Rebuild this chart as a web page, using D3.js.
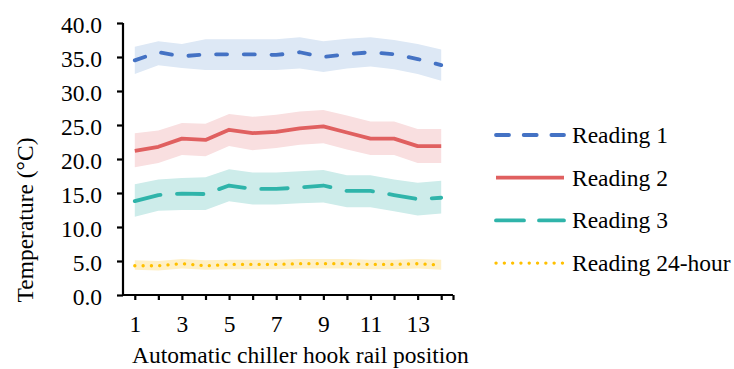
<!DOCTYPE html>
<html>
<head>
<meta charset="utf-8">
<script src="https://cdn.jsdelivr.net/npm/d3@7"></script>
<style>
	body { margin: 0; background: #fff; }
	svg { display: block; font-family: 'Liberation Serif', 'Times New Roman', serif; }
</style>
</head>
<body>
<div id="canvas"></div>
<script>
const positions = [1, 2, 3, 4, 5, 6, 7, 8, 9, 10, 11, 12, 13, 14];
const xTickLabels = [1, 3, 5, 7, 9, 11, 13];
const yTicks = [0, 5, 10, 15, 20, 25, 30, 35, 40];
const seriesNames = ['Reading 1', 'Reading 2', 'Reading 3', 'Reading 24-hour'];

const reading1 = [34.5, 35.7, 35.1, 35.4, 35.4, 35.4, 35.3, 35.7, 35.0, 35.4, 35.7, 35.4, 34.7, 33.8];
const reading1Hi = [36.5, 37.3, 36.9, 37.6, 37.6, 37.6, 37.6, 37.9, 37.3, 37.7, 37.9, 37.5, 36.9, 36.1];
const reading1Lo = [32.5, 33.8, 33.4, 33.1, 33.1, 33.1, 33.1, 33.3, 32.8, 33.3, 33.6, 33.2, 32.5, 31.5];

const reading2 = [21.2, 21.8, 23.0, 22.8, 24.3, 23.8, 24.0, 24.5, 24.8, 23.9, 23.0, 23.0, 21.9, 21.9];
const reading2Hi = [23.8, 24.2, 25.3, 25.2, 26.6, 26.2, 26.5, 27.0, 27.2, 26.4, 25.5, 25.5, 24.4, 24.4];
const reading2Lo = [18.8, 19.4, 20.6, 20.4, 21.9, 21.3, 21.6, 22.1, 22.3, 21.4, 20.6, 20.6, 19.4, 19.4];

const reading3 = [13.8, 14.7, 14.9, 14.85, 16.1, 15.6, 15.6, 15.8, 16.1, 15.3, 15.3, 14.7, 14.1, 14.3];
const reading3Hi = [16.3, 17.0, 17.2, 17.3, 18.5, 18.0, 18.0, 18.2, 18.4, 17.6, 17.6, 17.0, 16.5, 16.8];
const reading3Lo = [11.5, 12.4, 12.5, 12.5, 13.8, 13.3, 13.3, 13.5, 13.6, 12.9, 12.9, 12.3, 11.7, 12.0];

const reading24 = [4.3, 4.3, 4.6, 4.3, 4.5, 4.5, 4.5, 4.6, 4.6, 4.6, 4.5, 4.5, 4.6, 4.4];
const reading24Hi = [5.1, 5.0, 5.3, 5.1, 5.2, 5.2, 5.2, 5.3, 5.3, 5.3, 5.2, 5.2, 5.3, 5.2];
const reading24Lo = [3.7, 3.6, 3.9, 3.7, 3.8, 3.8, 3.8, 3.9, 3.9, 3.9, 3.8, 3.8, 3.9, 3.7];

const width = 734;
const height = 369;
const margin = { left: 123, right: 281, top: 23, bottom: 74 };
const fontSize = '23.5px';

const styles = [
	{ color: '#4472c4', band: '#dde8f5', dash: '11,16.7', cap: 'round', w: 3.8 },
	{ color: '#e06060', band: '#f9dfe0', dash: null, cap: 'butt', w: 3.8 },
	{ color: '#2fb4aa', band: '#cdecea', dash: '26.5,16.5', cap: 'round', w: 3.8 },
	{ color: '#ffc000', band: '#fff0c6', dash: '0.1,8.2', cap: 'round', w: 3.3 },
];

const series = [
	{ values: reading1, hi: reading1Hi, lo: reading1Lo },
	{ values: reading2, hi: reading2Hi, lo: reading2Lo },
	{ values: reading3, hi: reading3Hi, lo: reading3Lo },
	{ values: reading24, hi: reading24Hi, lo: reading24Lo },
];

const svg = d3.select('#canvas').append('svg').attr('width', width).attr('height', height);

const x = d3.scaleLinear().domain([0.5, 14.5]).range([margin.left, width - margin.right]);
const y = d3.scaleLinear().domain([0, 40]).range([height - margin.bottom, margin.top]);

// bands first, then lines on top
const area = d3.area().x((d, i) => x(positions[i])).y0(d => y(d[0])).y1(d => y(d[1]));
const line = d3.line().x((d, i) => x(positions[i])).y(d => y(d));

series.forEach((s, k) => {
	svg.append('path')
		.datum(s.lo.map((v, i) => [v, s.hi[i]]))
		.attr('d', area)
		.attr('fill', styles[k].band);
});

series.forEach((s, k) => {
	svg.append('path')
		.datum(s.values)
		.attr('d', line)
		.attr('fill', 'none')
		.attr('stroke', styles[k].color)
		.attr('stroke-width', styles[k].w)
		.attr('stroke-linecap', styles[k].cap)
		.attr('stroke-linejoin', 'round')
		.attr('stroke-dasharray', styles[k].dash);
});

// axes
const yAxis = svg.append('g')
	.attr('transform', `translate(${margin.left},0)`)
	.call(d3.axisLeft(y).tickValues(yTicks).tickFormat(d3.format('.1f')).tickSize(6).tickPadding(15));
const xAxis = svg.append('g')
	.attr('transform', `translate(0,${height - margin.bottom})`)
	.call(d3.axisBottom(x).tickValues(positions.concat([14.5])).tickFormat(d => xTickLabels.includes(d) ? d : '').tickSize(5).tickPadding(15));

[xAxis, yAxis].forEach(ax => {
	ax.attr('font-size', null).attr('font-family', null);
	ax.select('.domain').attr('stroke', '#000').attr('stroke-width', 2.2);
	ax.selectAll('.tick line').attr('stroke', '#000').attr('stroke-width', 2.2);
	ax.selectAll('.tick text')
		.attr('fill', '#000')
		.style('font-family', "'Liberation Serif', serif")
		.style('font-size', fontSize);
});
yAxis.selectAll('.tick text').attr('dy', '0.42em');
xAxis.select('.domain').attr('d', `M${x(0.5)},0H${x(14.5)}`);
yAxis.select('.domain').attr('d', `M0,${y(40)}V${y(0)}`);

// titles
svg.append('text')
	.attr('x', 132)
	.attr('y', 363)
	.style('font-size', fontSize)
	.text('Automatic chiller hook rail position');

svg.append('text')
	.attr('transform', `translate(33,220) rotate(-90)`)
	.attr('text-anchor', 'middle')
	.style('font-size', fontSize)
	.text('Temperature (°C)');

// legend
const legend = svg.append('g').attr('transform', 'translate(495,135)');
seriesNames.forEach((name, k) => {
	const g = legend.append('g').attr('transform', `translate(0,${k * 42.7})`);
	g.append('line')
		.attr('x1', 1).attr('x2', 69)
		.attr('stroke', styles[k].color)
		.attr('stroke-width', styles[k].w)
		.attr('stroke-linecap', styles[k].cap)
		.attr('stroke-dasharray', k === 0 ? '13,14.7' : k === 2 ? '28,15' : styles[k].dash);
	g.append('text')
		.attr('x', 77)
		.attr('y', 8)
		.style('font-size', fontSize)
		.text(name);
});
</script>
</body>
</html>
